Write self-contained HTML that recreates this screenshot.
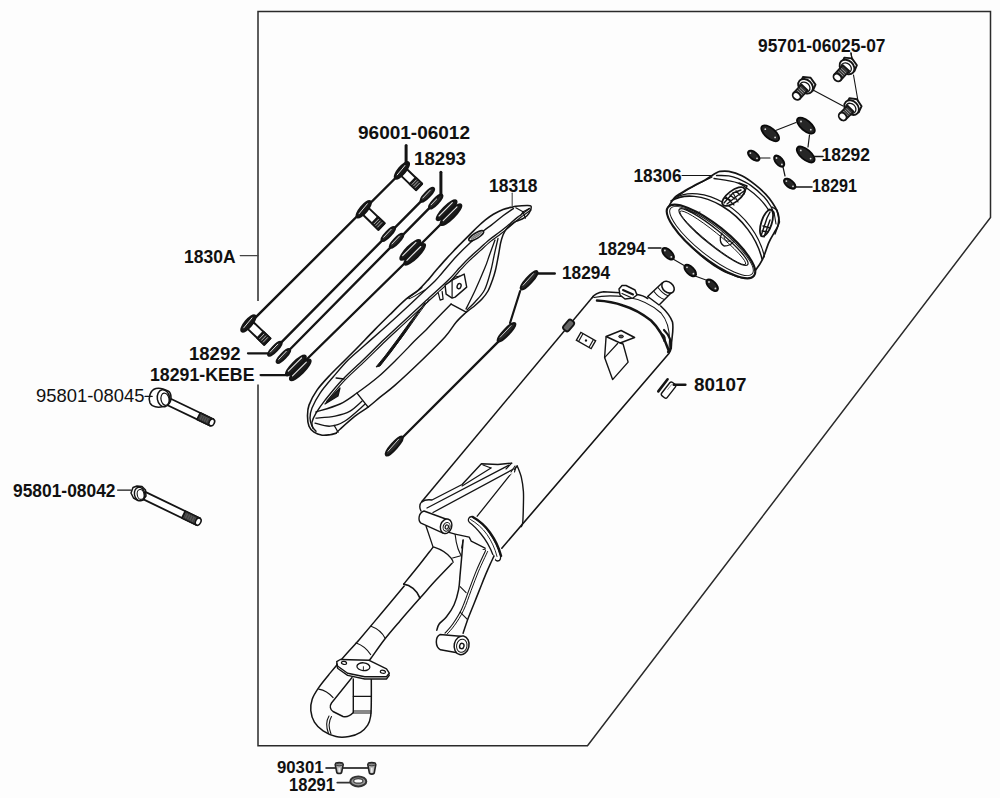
<!DOCTYPE html>
<html><head><meta charset="utf-8"><style>
html,body{margin:0;padding:0;background:#fdfdfd;}
svg{display:block;}
.t{font-family:"Liberation Sans",sans-serif;font-weight:bold;fill:#111;}
.r{font-family:"Liberation Sans",sans-serif;font-weight:normal;fill:#111;}
.ln{stroke:#1a1a1a;fill:none;}
</style></head><body>
<svg width="1000" height="798" viewBox="0 0 1000 798">
<rect x="0" y="0" width="1000" height="798" fill="#fdfdfd"/>
<!-- border -->
<path d="M258,301 L258,11.5 L990.5,11.5 L990.5,217.5 L587.5,745.8 L258,745.8 L258,384.5" fill="none" stroke="#2a2a2a" stroke-width="1.5"/>
<path d="M844.3,57.6 L851.9,58.4 L856.9,65.2 L854.4,71.2 L846.8,70.5 L841.8,63.7 Z" fill="#fff" stroke="#141414" stroke-width="1.9" stroke-linejoin="round" />
<ellipse cx="847.0" cy="67.0" rx="8.2" ry="6.4" transform="rotate(-137.6 847.0 67.0)" fill="#fff" stroke="#141414" stroke-width="1.9" />
<ellipse cx="846.2" cy="67.9" rx="5.6" ry="4.6" transform="rotate(-137.6 846.2 67.9)" fill="#fff" stroke="#141414" stroke-width="1.3" />
<path d="M842.8,65.2 L834.2,74.6 L840.6,80.4 L849.2,71.0 Z" fill="#3a3a3a" stroke="#141414" stroke-width="1.8" stroke-linejoin="round" />
<line x1="841.4" y1="68.6" x2="845.9" y2="72.7" stroke="#aaa" stroke-width="0.8" stroke-linecap="round"/>
<line x1="840.0" y1="70.2" x2="844.4" y2="74.3" stroke="#aaa" stroke-width="0.8" stroke-linecap="round"/>
<line x1="838.5" y1="71.8" x2="843.0" y2="75.9" stroke="#aaa" stroke-width="0.8" stroke-linecap="round"/>
<line x1="837.1" y1="73.4" x2="841.5" y2="77.4" stroke="#aaa" stroke-width="0.8" stroke-linecap="round"/>
<ellipse cx="837.4" cy="77.5" rx="4.3" ry="3.4" transform="rotate(-137.6 837.4 77.5)" fill="#fff" stroke="#141414" stroke-width="1.8" />
<path d="M803.0,76.9 L810.6,77.7 L815.5,84.6 L812.9,90.6 L805.4,89.8 L800.4,82.9 Z" fill="#fff" stroke="#141414" stroke-width="1.9" stroke-linejoin="round" />
<ellipse cx="805.6" cy="86.3" rx="8.2" ry="6.4" transform="rotate(-137.1 805.6 86.3)" fill="#fff" stroke="#141414" stroke-width="1.9" />
<ellipse cx="804.8" cy="87.2" rx="5.6" ry="4.6" transform="rotate(-137.1 804.8 87.2)" fill="#fff" stroke="#141414" stroke-width="1.3" />
<path d="M801.4,84.5 L793.4,93.1 L799.8,98.9 L807.7,90.3 Z" fill="#3a3a3a" stroke="#141414" stroke-width="1.8" stroke-linejoin="round" />
<line x1="800.2" y1="87.6" x2="804.7" y2="91.7" stroke="#aaa" stroke-width="0.8" stroke-linecap="round"/>
<line x1="798.9" y1="89.1" x2="803.3" y2="93.2" stroke="#aaa" stroke-width="0.8" stroke-linecap="round"/>
<line x1="797.5" y1="90.6" x2="802.0" y2="94.7" stroke="#aaa" stroke-width="0.8" stroke-linecap="round"/>
<line x1="796.2" y1="92.0" x2="800.6" y2="96.1" stroke="#aaa" stroke-width="0.8" stroke-linecap="round"/>
<ellipse cx="796.6" cy="96.0" rx="4.3" ry="3.4" transform="rotate(-137.1 796.6 96.0)" fill="#fff" stroke="#141414" stroke-width="1.8" />
<path d="M849.4,98.1 L856.9,99.2 L861.6,106.2 L858.8,112.2 L851.3,111.1 L846.6,104.0 Z" fill="#fff" stroke="#141414" stroke-width="1.9" stroke-linejoin="round" />
<ellipse cx="851.6" cy="107.6" rx="8.2" ry="6.4" transform="rotate(-135.0 851.6 107.6)" fill="#fff" stroke="#141414" stroke-width="1.9" />
<ellipse cx="850.8" cy="108.4" rx="5.6" ry="4.6" transform="rotate(-135.0 850.8 108.4)" fill="#fff" stroke="#141414" stroke-width="1.3" />
<path d="M847.5,105.6 L839.6,113.6 L845.6,119.6 L853.6,111.7 Z" fill="#3a3a3a" stroke="#141414" stroke-width="1.8" stroke-linejoin="round" />
<line x1="846.3" y1="108.6" x2="850.6" y2="112.9" stroke="#aaa" stroke-width="0.8" stroke-linecap="round"/>
<line x1="845.0" y1="110.0" x2="849.2" y2="114.2" stroke="#aaa" stroke-width="0.8" stroke-linecap="round"/>
<line x1="843.6" y1="111.3" x2="847.9" y2="115.6" stroke="#aaa" stroke-width="0.8" stroke-linecap="round"/>
<line x1="842.3" y1="112.7" x2="846.5" y2="116.9" stroke="#aaa" stroke-width="0.8" stroke-linecap="round"/>
<ellipse cx="842.6" cy="116.6" rx="4.3" ry="3.4" transform="rotate(-135.0 842.6 116.6)" fill="#fff" stroke="#141414" stroke-width="1.8" />
<line x1="851.0" y1="53.0" x2="852.0" y2="59.0" stroke="#141414" stroke-width="1.2" stroke-linecap="round"/>
<line x1="853.5" y1="75.0" x2="858.0" y2="101.0" stroke="#141414" stroke-width="1.1" stroke-linecap="round"/>
<line x1="813.0" y1="90.0" x2="843.0" y2="106.0" stroke="#141414" stroke-width="1.1" stroke-linecap="round"/>
<ellipse cx="770.2" cy="133.3" rx="10.8" ry="5.1" transform="rotate(40.0 770.2 133.3)" fill="#262626" stroke="#0a0a0a" stroke-width="1.8" />
<circle cx="765.3" cy="129.2" r="0.9" fill="#ddd"/>
<circle cx="775.1" cy="137.4" r="0.9" fill="#ddd"/>
<ellipse cx="805.9" cy="125.6" rx="10.8" ry="5.1" transform="rotate(40.0 805.9 125.6)" fill="#262626" stroke="#0a0a0a" stroke-width="1.8" />
<circle cx="801.0" cy="121.5" r="0.9" fill="#ddd"/>
<circle cx="810.8" cy="129.7" r="0.9" fill="#ddd"/>
<ellipse cx="805.7" cy="154.5" rx="10.8" ry="5.1" transform="rotate(40.0 805.7 154.5)" fill="#262626" stroke="#0a0a0a" stroke-width="1.8" />
<circle cx="800.8" cy="150.4" r="0.9" fill="#ddd"/>
<circle cx="810.6" cy="158.6" r="0.9" fill="#ddd"/>
<line x1="775.6" y1="130.5" x2="796.0" y2="122.5" stroke="#141414" stroke-width="1.1" stroke-linecap="round"/>
<line x1="809.5" y1="135.0" x2="808.0" y2="147.0" stroke="#141414" stroke-width="1.2" stroke-linecap="round"/>
<line x1="814.0" y1="156.5" x2="823.0" y2="156.5" stroke="#141414" stroke-width="1.5" stroke-linecap="round"/>
<ellipse cx="753.7" cy="155.7" rx="6.8" ry="3.6" transform="rotate(38.0 753.7 155.7)" fill="#262626" stroke="#0a0a0a" stroke-width="1.8" />
<circle cx="750.4" cy="153.1" r="0.9" fill="#ddd"/>
<circle cx="757.0" cy="158.3" r="0.9" fill="#ddd"/>
<ellipse cx="779.2" cy="161.2" rx="6.8" ry="3.6" transform="rotate(50.0 779.2 161.2)" fill="#262626" stroke="#0a0a0a" stroke-width="1.8" />
<circle cx="776.5" cy="158.0" r="0.9" fill="#ddd"/>
<circle cx="781.9" cy="164.4" r="0.9" fill="#ddd"/>
<ellipse cx="789.7" cy="183.7" rx="6.8" ry="3.6" transform="rotate(38.0 789.7 183.7)" fill="#262626" stroke="#0a0a0a" stroke-width="1.8" />
<circle cx="786.4" cy="181.1" r="0.9" fill="#ddd"/>
<circle cx="793.0" cy="186.3" r="0.9" fill="#ddd"/>
<line x1="760.0" y1="158.0" x2="770.0" y2="158.0" stroke="#141414" stroke-width="1.2" stroke-linecap="round"/>
<line x1="783.0" y1="167.0" x2="785.0" y2="176.0" stroke="#141414" stroke-width="1.2" stroke-linecap="round"/>
<line x1="795.0" y1="187.0" x2="812.0" y2="187.0" stroke="#141414" stroke-width="1.5" stroke-linecap="round"/>
<line x1="851.0" y1="53.0" x2="852.0" y2="59.0" stroke="#141414" stroke-width="1.3" stroke-linecap="round"/>
<ellipse cx="668.1" cy="253.7" rx="7.4" ry="3.8" transform="rotate(45.0 668.1 253.7)" fill="#262626" stroke="#0a0a0a" stroke-width="1.8" />
<circle cx="664.9" cy="250.5" r="0.9" fill="#ddd"/>
<circle cx="671.3" cy="256.9" r="0.9" fill="#ddd"/>
<ellipse cx="690.2" cy="270.5" rx="7.4" ry="3.8" transform="rotate(45.0 690.2 270.5)" fill="#262626" stroke="#0a0a0a" stroke-width="1.8" />
<circle cx="687.0" cy="267.3" r="0.9" fill="#ddd"/>
<circle cx="693.4" cy="273.7" r="0.9" fill="#ddd"/>
<ellipse cx="712.2" cy="285.2" rx="7.4" ry="3.8" transform="rotate(45.0 712.2 285.2)" fill="#262626" stroke="#0a0a0a" stroke-width="1.8" />
<circle cx="709.0" cy="282.0" r="0.9" fill="#ddd"/>
<circle cx="715.4" cy="288.4" r="0.9" fill="#ddd"/>
<line x1="648.3" y1="248.0" x2="661.0" y2="248.0" stroke="#141414" stroke-width="1.3" stroke-linecap="round"/>
<line x1="673.0" y1="259.0" x2="685.0" y2="266.0" stroke="#141414" stroke-width="1.1" stroke-linecap="round"/>
<line x1="695.0" y1="276.0" x2="706.0" y2="280.0" stroke="#141414" stroke-width="1.1" stroke-linecap="round"/>
<line x1="402.5" y1="171.0" x2="249.0" y2="324.0" stroke="#141414" stroke-width="2.4" stroke-linecap="round"/>
<line x1="427.4" y1="194.8" x2="274.9" y2="348.8" stroke="#141414" stroke-width="2.4" stroke-linecap="round"/>
<line x1="435.7" y1="201.6" x2="283.4" y2="356.0" stroke="#141414" stroke-width="2.4" stroke-linecap="round"/>
<line x1="444.0" y1="221.0" x2="419.0" y2="246.0" stroke="#141414" stroke-width="2.4" stroke-linecap="round"/>
<line x1="408.0" y1="260.0" x2="305.0" y2="361.0" stroke="#141414" stroke-width="2.4" stroke-linecap="round"/>
<path d="M400.9,175.6 L416.1,190.1 L422.1,183.7 L407.0,169.2 Z" fill="#fff" stroke="#141414" stroke-width="2.0" stroke-linejoin="round" />
<path d="M409.7,184.0 L416.1,190.1 L422.1,183.7 L415.8,177.7 Z" fill="#222" stroke="#141414" stroke-width="2.0" stroke-linejoin="round" />
<line x1="412.0" y1="184.4" x2="416.3" y2="179.9" stroke="#bbb" stroke-width="0.9" stroke-linecap="round"/>
<line x1="413.6" y1="185.9" x2="417.9" y2="181.5" stroke="#bbb" stroke-width="0.9" stroke-linecap="round"/>
<line x1="415.3" y1="187.5" x2="419.6" y2="183.1" stroke="#bbb" stroke-width="0.9" stroke-linecap="round"/>
<ellipse cx="401.9" cy="170.4" rx="10.2" ry="3.3" transform="rotate(129.8 401.9 170.4)" fill="#1a1a1a" stroke="#141414" stroke-width="2.3" />
<line x1="405.5" y1="164.9" x2="397.2" y2="174.9" stroke="#ddd" stroke-width="1.0" stroke-linecap="round"/>
<path d="M362.7,214.5 L378.4,229.7 L384.6,223.3 L368.8,208.1 Z" fill="#fff" stroke="#141414" stroke-width="2.0" stroke-linejoin="round" />
<path d="M371.9,223.4 L378.4,229.7 L384.6,223.3 L378.0,217.0 Z" fill="#222" stroke="#141414" stroke-width="2.0" stroke-linejoin="round" />
<line x1="374.2" y1="223.7" x2="378.5" y2="219.3" stroke="#bbb" stroke-width="0.9" stroke-linecap="round"/>
<line x1="375.9" y1="225.4" x2="380.2" y2="221.0" stroke="#bbb" stroke-width="0.9" stroke-linecap="round"/>
<line x1="377.6" y1="227.1" x2="381.9" y2="222.6" stroke="#bbb" stroke-width="0.9" stroke-linecap="round"/>
<ellipse cx="363.7" cy="209.3" rx="10.2" ry="3.3" transform="rotate(130.0 363.7 209.3)" fill="#1a1a1a" stroke="#141414" stroke-width="2.3" />
<line x1="367.3" y1="203.8" x2="359.0" y2="213.8" stroke="#ddd" stroke-width="1.0" stroke-linecap="round"/>
<path d="M247.4,328.6 L264.2,344.8 L270.4,338.4 L253.5,322.2 Z" fill="#fff" stroke="#141414" stroke-width="2.0" stroke-linejoin="round" />
<path d="M257.3,338.1 L264.2,344.8 L270.4,338.4 L263.4,331.7 Z" fill="#222" stroke="#141414" stroke-width="2.0" stroke-linejoin="round" />
<line x1="259.7" y1="338.5" x2="263.9" y2="334.1" stroke="#bbb" stroke-width="0.9" stroke-linecap="round"/>
<line x1="261.5" y1="340.3" x2="265.8" y2="335.9" stroke="#bbb" stroke-width="0.9" stroke-linecap="round"/>
<line x1="263.3" y1="342.1" x2="267.6" y2="337.6" stroke="#bbb" stroke-width="0.9" stroke-linecap="round"/>
<ellipse cx="248.4" cy="323.4" rx="10.2" ry="3.3" transform="rotate(129.9 248.4 323.4)" fill="#1a1a1a" stroke="#141414" stroke-width="2.3" />
<line x1="252.0" y1="317.9" x2="243.7" y2="327.9" stroke="#ddd" stroke-width="1.0" stroke-linecap="round"/>
<ellipse cx="427.4" cy="194.8" rx="9.2" ry="2.6" transform="rotate(-46.0 427.4 194.8)" fill="#2a2a2a" stroke="#141414" stroke-width="2.1" />
<line x1="422.7" y1="198.1" x2="430.3" y2="190.1" stroke="#e0e0e0" stroke-width="1.0" stroke-linecap="round"/>
<ellipse cx="388.3" cy="234.0" rx="9.2" ry="2.6" transform="rotate(-46.0 388.3 234.0)" fill="#2a2a2a" stroke="#141414" stroke-width="2.1" />
<line x1="383.6" y1="237.3" x2="391.2" y2="229.3" stroke="#e0e0e0" stroke-width="1.0" stroke-linecap="round"/>
<ellipse cx="274.9" cy="348.8" rx="9.2" ry="2.6" transform="rotate(-46.0 274.9 348.8)" fill="#2a2a2a" stroke="#141414" stroke-width="2.1" />
<line x1="270.2" y1="352.1" x2="277.8" y2="344.1" stroke="#e0e0e0" stroke-width="1.0" stroke-linecap="round"/>
<ellipse cx="435.7" cy="201.6" rx="9.2" ry="2.6" transform="rotate(-46.0 435.7 201.6)" fill="#2a2a2a" stroke="#141414" stroke-width="2.1" />
<line x1="431.0" y1="204.9" x2="438.6" y2="196.9" stroke="#e0e0e0" stroke-width="1.0" stroke-linecap="round"/>
<ellipse cx="396.6" cy="240.7" rx="9.2" ry="2.6" transform="rotate(-46.0 396.6 240.7)" fill="#2a2a2a" stroke="#141414" stroke-width="2.1" />
<line x1="391.9" y1="244.0" x2="399.5" y2="236.0" stroke="#e0e0e0" stroke-width="1.0" stroke-linecap="round"/>
<ellipse cx="283.4" cy="356.0" rx="9.2" ry="2.6" transform="rotate(-46.0 283.4 356.0)" fill="#2a2a2a" stroke="#141414" stroke-width="2.1" />
<line x1="278.7" y1="359.3" x2="286.3" y2="351.3" stroke="#e0e0e0" stroke-width="1.0" stroke-linecap="round"/>
<ellipse cx="446.6" cy="210.3" rx="13.4" ry="3.6" transform="rotate(-45.0 446.6 210.3)" fill="#1c1c1c" stroke="#141414" stroke-width="2.3" />
<line x1="439.0" y1="216.0" x2="452.3" y2="202.7" stroke="#e8e8e8" stroke-width="1.1" stroke-linecap="round"/>
<ellipse cx="451.0" cy="214.7" rx="14.0" ry="3.6" transform="rotate(-45.0 451.0 214.7)" fill="#1c1c1c" stroke="#141414" stroke-width="2.3" />
<line x1="443.2" y1="220.7" x2="457.0" y2="206.9" stroke="#e8e8e8" stroke-width="1.1" stroke-linecap="round"/>
<ellipse cx="410.3" cy="249.9" rx="13.4" ry="3.6" transform="rotate(-45.0 410.3 249.9)" fill="#1c1c1c" stroke="#141414" stroke-width="2.3" />
<line x1="402.7" y1="255.6" x2="416.0" y2="242.3" stroke="#e8e8e8" stroke-width="1.1" stroke-linecap="round"/>
<ellipse cx="414.7" cy="254.3" rx="14.0" ry="3.6" transform="rotate(-45.0 414.7 254.3)" fill="#1c1c1c" stroke="#141414" stroke-width="2.3" />
<line x1="406.9" y1="260.3" x2="420.7" y2="246.5" stroke="#e8e8e8" stroke-width="1.1" stroke-linecap="round"/>
<ellipse cx="295.9" cy="365.5" rx="13.4" ry="3.6" transform="rotate(-45.0 295.9 365.5)" fill="#1c1c1c" stroke="#141414" stroke-width="2.3" />
<line x1="288.3" y1="371.2" x2="301.6" y2="357.9" stroke="#e8e8e8" stroke-width="1.1" stroke-linecap="round"/>
<ellipse cx="300.3" cy="369.9" rx="14.0" ry="3.6" transform="rotate(-45.0 300.3 369.9)" fill="#1c1c1c" stroke="#141414" stroke-width="2.3" />
<line x1="292.5" y1="375.9" x2="306.3" y2="362.1" stroke="#e8e8e8" stroke-width="1.1" stroke-linecap="round"/>
<line x1="406.1" y1="145.5" x2="406.1" y2="164.0" stroke="#141414" stroke-width="3.0" stroke-linecap="round"/>
<line x1="440.9" y1="172.3" x2="440.9" y2="194.0" stroke="#141414" stroke-width="3.0" stroke-linecap="round"/>
<line x1="441.0" y1="194.0" x2="437.5" y2="198.0" stroke="#141414" stroke-width="1.8" stroke-linecap="round"/>
<line x1="248.0" y1="353.3" x2="268.0" y2="353.3" stroke="#141414" stroke-width="2.3" stroke-linecap="round"/>
<line x1="260.6" y1="375.1" x2="287.0" y2="375.1" stroke="#141414" stroke-width="2.3" stroke-linecap="round"/>
<line x1="240.2" y1="255.6" x2="258.0" y2="255.6" stroke="#444" stroke-width="1.2" stroke-linecap="round"/>
<path d="M421.9,501.4 L593.5,296.0 L596.7,292.8 L604.2,291.2 L617.0,291.7 L627.6,289.5 L638.2,292.8 L645.7,296.0 L655.3,306.6 L666.0,315.1 L672.0,324.7 L671.3,333.2 L670.2,343.9 L669.1,354.5 L666.5,359.5 L501.8,548.2 L470.0,520.0 L440.0,505.0 Z" fill="#fdfdfd" stroke="#fff" stroke-width="0.01" stroke-linejoin="round" />
<path d="M421.9,501.4 L593.5,296.0" fill="none" stroke="#141414" stroke-width="1.5" stroke-linejoin="round" />
<path d="M592.3,297.7 C594,294.5 597,292.5 603.7,291.7 L620,292.8 M636,294.2 C641,295 645,296.5 647.7,298.5" fill="none" stroke="#141414" stroke-width="1.6" stroke-linejoin="round" stroke-linecap="round" />
<path d="M660.7,306 C665,310 670,315 672.5,322 C674,330 671.5,338 671.3,346.5 C671,350 670,352 668.9,353.5 L501.8,548.2" fill="none" stroke="#141414" stroke-width="1.6" stroke-linejoin="round" stroke-linecap="round" />
<path d="M594,297.5 C603,295.5 614,295.5 626,297 C640,299 652,305 661,313 C667,320 669.5,330 669.5,340 L669,351" fill="none" stroke="#141414" stroke-width="1.1" stroke-linejoin="round" stroke-linecap="round" />
<path d="M597,300.5 C606,301 615,302.5 623,305.5 C633,308.5 642,313.5 651,320.5 C659,328 664,337 668.5,350" fill="none" stroke="#141414" stroke-width="2.5" stroke-linejoin="round" stroke-linecap="round" />
<path d="M620,295 L619,289 L622,285.5 L626,285.5 L635,290 L637,295 L633,298 L625,299 Z" fill="#fff" stroke="#141414" stroke-width="1.5" stroke-linejoin="round" stroke-linecap="round" />
<path d="M623,290 L633,294.5" fill="none" stroke="#141414" stroke-width="2.0" stroke-linejoin="round" stroke-linecap="round" />
<path d="M622,293.5 L631,297.5" fill="none" stroke="#141414" stroke-width="1.2" stroke-linejoin="round" stroke-linecap="round" />
<path d="M647.7,296.5 L662.4,282.7 L671.3,292.8 L659.1,305.0 Z" fill="#fff" stroke="#141414" stroke-width="1.5" stroke-linejoin="round" />
<ellipse cx="668.0" cy="287.2" rx="7.0" ry="5.0" transform="rotate(40.0 668.0 287.2)" fill="#fff" stroke="#141414" stroke-width="1.6" />
<path d="M654,291.5 C657,295.5 661,298.5 664.5,299.5" fill="none" stroke="#141414" stroke-width="1.1" stroke-linejoin="round" stroke-linecap="round" />
<path d="M658,287.5 C661,291.5 664,294.5 667.5,295.5" fill="none" stroke="#141414" stroke-width="1.1" stroke-linejoin="round" stroke-linecap="round" />
<path d="M664,330 C668,334 672,340 671,348 L668,352" fill="none" stroke="#141414" stroke-width="2.2" stroke-linejoin="round" stroke-linecap="round" />
<path d="M662,334 C665,336 666,339 664,341" fill="none" stroke="#141414" stroke-width="1.6" stroke-linejoin="round" stroke-linecap="round" />
<path d="M606.1,336.5 L621.1,330.5 L634.6,337.5 L620.1,343.0 Z" fill="#fff" stroke="#141414" stroke-width="1.5" stroke-linejoin="round" />
<ellipse cx="621.1" cy="336.5" rx="2.4" ry="1.4" transform="rotate(0.0 621.1 336.5)" fill="#555" stroke="#141414" stroke-width="1.0" />
<path d="M606.1,336.5 L604.6,357.6 L612.6,379.6 L628.1,362.1 L623.1,344.0 L620.1,343.0" fill="none" stroke="#141414" stroke-width="1.4" stroke-linejoin="round" />
<line x1="604.6" y1="357.6" x2="617.6" y2="343.5" stroke="#141414" stroke-width="1.2" stroke-linecap="round"/>
<g transform="rotate(30 586 340.5)"><rect x="577.5" y="336" width="17" height="9" fill="#fff" stroke="#141414" stroke-width="1.4"/><line x1="580" y1="336.5" x2="580" y2="344.5" stroke="#141414" stroke-width="1.2"/><line x1="592" y1="336.5" x2="592" y2="344.5" stroke="#141414" stroke-width="1.2"/><circle cx="586" cy="340.5" r="1.2" fill="#141414"/></g>
<rect x="562.6" y="322" width="12" height="7" rx="2.5" transform="rotate(-50 568.6 325.5)" fill="#666" stroke="#141414" stroke-width="1.8"/>
<path d="M512.6,207.0 L503.0,209.4 L493.4,214.2 L485.4,219.8 L477.4,227.0 L471.0,233.4 L463.0,241.4 L456.3,248.1 L446.0,259.1 L435.7,270.8 L428.8,279.1 L418.4,290.0 L406.0,299.2 L390.0,314.5 L374.8,329.6 L360.0,345.0 L345.1,360.0 L330.1,375.0 L317.0,390.1 L309.0,405.1 L307.5,416.1 L309.0,426.2 L314.0,432.2 L322.1,435.2 L330.1,434.7 L336.1,433.2 L340.0,429.2 L355.0,416.1 L368.1,407.1 L380.1,397.1 L395.1,385.1 L420.0,362.0 L445.0,337.0 L456.1,322.2 L466.2,312.2 L475.0,305.5 L482.0,299.0 L488.0,291.0 L492.5,280.0 L495.5,270.0 L498.5,255.0 L500.6,243.0 L503.0,235.0 L506.2,229.4 L511.0,224.6 L515.8,221.4 L522.2,219.0 L527.0,215.8 L530.2,211.0 L531.0,206.2 L527.0,205.4 L515.8,206.2 L512.6,207.0 Z" fill="#fcfcfc" stroke="#fff" stroke-width="0.01" stroke-linejoin="round" />
<path d="M512.6,207.0 C511.0,207.4 506.2,208.2 503.0,209.4 C499.8,210.6 496.3,212.5 493.4,214.2 C490.5,215.9 488.1,217.7 485.4,219.8 C482.7,221.9 479.8,224.7 477.4,227.0 C475.0,229.3 473.4,231.0 471.0,233.4 C468.6,235.8 465.4,239.0 463.0,241.4 C460.6,243.8 459.1,245.1 456.3,248.1 C453.5,251.1 449.4,255.3 446.0,259.1 C442.6,262.9 438.6,267.5 435.7,270.8 C432.8,274.1 431.7,275.9 428.8,279.1 C425.9,282.3 422.2,286.6 418.4,290.0 C414.6,293.4 410.7,295.1 406.0,299.2 C401.3,303.3 395.2,309.4 390.0,314.5 C384.8,319.6 379.8,324.5 374.8,329.6 C369.8,334.7 364.9,339.9 360.0,345.0 C355.1,350.1 350.1,355.0 345.1,360.0 C340.1,365.0 334.8,370.0 330.1,375.0 C325.4,380.0 320.5,385.1 317.0,390.1 C313.5,395.1 310.6,400.8 309.0,405.1 C307.4,409.4 307.5,412.6 307.5,416.1 C307.5,419.6 307.9,423.5 309.0,426.2 C310.1,428.9 311.8,430.7 314.0,432.2 C316.2,433.7 319.4,434.8 322.1,435.2 C324.8,435.6 327.8,435.0 330.1,434.7 C332.4,434.4 335.1,433.4 336.1,433.2" fill="none" stroke="#141414" stroke-width="1.6" stroke-linejoin="round" stroke-linecap="round" />
<path d="M336.1,433.2 C336.8,432.5 336.9,432.0 340.0,429.2 C343.1,426.4 350.3,419.8 355.0,416.1 C359.7,412.4 363.9,410.3 368.1,407.1 C372.3,403.9 375.6,400.8 380.1,397.1 C384.6,393.4 388.5,391.0 395.1,385.1 C401.8,379.2 411.7,370.0 420.0,362.0 C428.3,354.0 439.0,343.6 445.0,337.0 C451.0,330.4 452.6,326.3 456.1,322.2 C459.6,318.1 464.5,313.9 466.2,312.2" fill="none" stroke="#141414" stroke-width="1.5" stroke-linejoin="round" stroke-linecap="round" />
<path d="M466.2,312.2 C467.7,311.1 472.4,307.7 475.0,305.5 C477.6,303.3 479.8,301.4 482.0,299.0 C484.2,296.6 486.2,294.2 488.0,291.0 C489.8,287.8 491.2,283.5 492.5,280.0 C493.8,276.5 494.5,274.2 495.5,270.0 C496.5,265.8 497.6,259.5 498.5,255.0 C499.4,250.5 499.9,246.3 500.6,243.0 C501.4,239.7 502.1,237.3 503.0,235.0 C503.9,232.7 504.9,231.1 506.2,229.4 C507.5,227.7 509.4,225.9 511.0,224.6 C512.6,223.3 513.9,222.3 515.8,221.4 C517.7,220.5 520.3,219.9 522.2,219.0 C524.1,218.1 525.7,217.1 527.0,215.8 C528.3,214.5 529.5,212.6 530.2,211.0 C530.9,209.4 531.5,207.1 531.0,206.2 C530.5,205.3 529.5,205.4 527.0,205.4 C524.5,205.4 518.2,205.9 515.8,206.2 C513.4,206.5 513.1,206.9 512.6,207.0" fill="none" stroke="#141414" stroke-width="1.5" stroke-linejoin="round" stroke-linecap="round" />
<path d="M513.4,208.6 C511.7,209.8 506.7,213.0 503.0,215.8 C499.3,218.6 494.2,223.0 491.0,225.4 C487.8,227.8 487.6,227.5 484.0,230.5 C480.4,233.5 474.0,239.2 469.4,243.5 C464.8,247.8 460.8,251.7 456.3,256.5 C451.8,261.3 446.1,268.4 442.5,272.5 C438.9,276.6 437.9,278.1 435.0,281.0 C432.1,283.9 430.5,285.2 425.3,290.0 C420.1,294.8 411.2,303.3 404.0,310.0 C396.8,316.7 388.5,324.2 382.0,330.0 C375.5,335.8 370.6,340.0 365.0,345.0 C359.4,350.0 353.4,354.7 348.1,360.0 C342.8,365.3 337.8,371.5 333.1,377.0 C328.4,382.5 323.6,387.9 320.1,393.1 C316.6,398.3 313.7,403.9 312.0,408.1 C310.3,412.3 310.0,415.1 310.0,418.1 C310.0,421.1 311.0,424.0 312.0,426.2 C313.0,428.4 315.3,430.4 316.0,431.2" fill="none" stroke="#141414" stroke-width="1.4" stroke-linejoin="round" stroke-linecap="round" />
<path d="M529.4,208.6 C527.4,210.1 521.1,214.5 517.4,217.4 C513.7,220.3 510.1,223.7 507.0,226.2 C503.9,228.7 502.0,230.2 499.0,232.5 C496.0,234.8 492.3,237.2 489.0,240.0 C485.7,242.8 482.5,245.8 479.0,249.0 C475.5,252.2 471.2,255.9 468.0,259.0 C464.8,262.1 463.1,264.0 459.8,267.5 C456.5,271.0 454.3,274.2 448.4,280.0 C442.5,285.8 431.9,295.2 424.5,302.0 C417.1,308.8 410.8,314.7 404.0,321.0 C397.2,327.3 390.8,333.1 384.0,339.6 C377.2,346.1 370.1,353.3 363.1,360.0 C356.1,366.7 348.4,373.3 342.1,380.0 C335.8,386.7 329.5,394.6 325.1,400.1 C320.8,405.6 318.2,409.4 316.0,413.1 C313.8,416.8 312.5,419.7 312.0,422.2 C311.5,424.7 312.8,427.2 313.0,428.2" fill="none" stroke="#141414" stroke-width="1.4" stroke-linejoin="round" stroke-linecap="round" />
<path d="M531.0,210.0 C529.0,211.5 522.7,215.9 519.0,218.8 C515.3,221.7 511.7,225.1 508.6,227.6 C505.5,230.1 503.6,231.6 500.6,233.9 C497.6,236.2 493.9,238.7 490.6,241.4 C487.3,244.2 484.1,247.2 480.6,250.4 C477.1,253.6 472.8,257.3 469.6,260.4 C466.4,263.5 464.7,265.4 461.4,268.9 C458.1,272.4 455.9,275.6 450.0,281.4 C444.1,287.1 433.5,296.6 426.1,303.4 C418.7,310.2 412.4,316.1 405.6,322.4 C398.9,328.7 392.4,334.5 385.6,341.0 C378.8,347.5 371.7,354.7 364.7,361.4 C357.7,368.1 350.0,374.7 343.7,381.4 C337.4,388.1 329.5,398.1 326.7,401.5" fill="none" stroke="#141414" stroke-width="1.2" stroke-linejoin="round" stroke-linecap="round" />
<path d="M451.1,304.1 C448.2,307.0 438.2,317.2 434.0,321.5 C429.8,325.8 429.0,327.0 426.0,330.0 C423.0,333.0 421.0,334.6 416.0,339.6 C411.0,344.6 402.3,353.8 396.0,360.0 C389.7,366.2 384.5,371.5 378.0,377.0 C371.5,382.5 363.3,388.5 357.0,393.0 C350.7,397.5 346.8,400.8 340.0,404.0 C333.2,407.2 320.0,410.7 316.0,412.0" fill="none" stroke="#141414" stroke-width="1.4" stroke-linejoin="round" stroke-linecap="round" />
<line x1="451.1" y1="304.1" x2="466.2" y2="312.2" stroke="#141414" stroke-width="1.4" stroke-linecap="round"/>
<line x1="357.0" y1="393.1" x2="368.1" y2="407.1" stroke="#141414" stroke-width="1.4" stroke-linecap="round"/>
<line x1="334.1" y1="425.2" x2="338.1" y2="432.2" stroke="#141414" stroke-width="1.3" stroke-linecap="round"/>
<line x1="336.1" y1="378.0" x2="344.1" y2="379.0" stroke="#141414" stroke-width="1.3" stroke-linecap="round"/>
<path d="M316.0,418.1 C319.2,417.8 329.4,417.3 335.1,416.1 C340.8,414.9 345.6,413.6 350.1,411.1 C354.6,408.6 360.1,402.8 362.1,401.1" fill="none" stroke="#141414" stroke-width="1.3" stroke-linejoin="round" stroke-linecap="round" />
<path d="M315.0,423.2 C317.5,423.7 325.1,426.6 330.1,426.2 C335.1,425.8 339.2,424.7 345.0,421.0 C350.8,417.3 361.8,406.9 365.1,404.1" fill="none" stroke="#141414" stroke-width="1.3" stroke-linejoin="round" stroke-linecap="round" />
<path d="M325,404 L340,388 L338,396 Z" fill="#222" stroke="#141414" stroke-width="1.2" stroke-linejoin="round" stroke-linecap="round" />
<path d="M425,303 L410,322 L397,340 L385,356 L376,367 L380,366 L391,352 L402,337 L414,319 Z" fill="#151515" stroke="#141414" stroke-width="1.0" stroke-linejoin="round" stroke-linecap="round" />
<path d="M429,299.5 L417,316 L405,333 L392,350 L381,363.5" fill="none" stroke="#141414" stroke-width="1.0" stroke-linejoin="round" stroke-linecap="round" />
<path d="M407,298.5 C412,295 417,292 422,287.5 M409,298.8 C414,297 419,293 425,290" fill="none" stroke="#141414" stroke-width="1.1" stroke-linejoin="round" stroke-linecap="round" />
<ellipse cx="476.2" cy="235.8" rx="8.6" ry="2.7" transform="rotate(-32.0 476.2 235.8)" fill="#fff" stroke="#141414" stroke-width="1.6" />
<ellipse cx="476.2" cy="235.8" rx="6.2" ry="1.0" transform="rotate(-32.0 476.2 235.8)" fill="#999" stroke="#666" stroke-width="0.9" />
<path d="M498.0,238.5 C497.3,241.4 495.2,250.4 494.0,256.0 C492.8,261.6 492.1,266.3 490.5,272.0 C488.9,277.7 487.1,285.0 484.5,290.0 C481.9,295.0 477.9,298.7 475.0,302.0 C472.1,305.3 468.3,308.7 467.0,310.0" fill="none" stroke="#141414" stroke-width="1.3" stroke-linejoin="round" stroke-linecap="round" />
<path d="M495.0,240.0 C494.1,242.5 491.2,250.4 489.5,255.0 C487.8,259.6 487.4,261.8 485.0,267.6 C482.6,273.4 478.5,283.1 475.3,290.0 C472.1,296.9 467.6,305.8 466.0,309.0" fill="none" stroke="#141414" stroke-width="1.3" stroke-linejoin="round" stroke-linecap="round" />
<path d="M515.8,207.8 L523,211.8 L525.4,218.2 M523,211.8 L529.5,208.5 M520.6,215.8 L523,211.8" fill="none" stroke="#141414" stroke-width="1.2" stroke-linejoin="round" stroke-linecap="round" />
<line x1="512.2" y1="193.2" x2="512.2" y2="206.2" stroke="#555" stroke-width="1.2" stroke-linecap="round"/>
<path d="M445.1,285.1 L452.1,280.1 L464.2,274.1 L466.7,287.1 L455.1,297.1 L452.1,298.1 L446.1,294.1 Z" fill="#fff" stroke="#141414" stroke-width="1.4" stroke-linejoin="round" />
<path d="M452.1,280.1 L452.1,298.1" fill="none" stroke="#141414" stroke-width="1.2" stroke-linejoin="round" />
<path d="M452.1,280.1 L455.0,277.0 L460.0,276.0" fill="none" stroke="#141414" stroke-width="1.0" stroke-linejoin="round" />
<ellipse cx="459.1" cy="286.1" rx="1.9" ry="2.7" transform="rotate(20.0 459.1 286.1)" fill="#fff" stroke="#141414" stroke-width="1.4" />
<path d="M438.1,292.1 L440.1,300.1 L443.1,299.1 L442.1,291.1" fill="#fff" stroke="#141414" stroke-width="1.2" stroke-linejoin="round" />
<line x1="520.1" y1="291.1" x2="510.0" y2="323.1" stroke="#141414" stroke-width="2.1" stroke-linecap="round"/>
<line x1="498.4" y1="341.6" x2="401.0" y2="439.0" stroke="#141414" stroke-width="2.3" stroke-linecap="round"/>
<ellipse cx="529.1" cy="280.3" rx="12.0" ry="3.0" transform="rotate(-47.7 529.1 280.3)" fill="#2a2a2a" stroke="#141414" stroke-width="2.1" />
<line x1="523.0" y1="285.3" x2="533.5" y2="273.7" stroke="#ddd" stroke-width="0.9" stroke-linecap="round"/>
<ellipse cx="506.5" cy="332.2" rx="12.3" ry="3.0" transform="rotate(-46.6 506.5 332.2)" fill="#2a2a2a" stroke="#141414" stroke-width="2.1" />
<line x1="500.1" y1="337.2" x2="511.1" y2="325.6" stroke="#ddd" stroke-width="0.9" stroke-linecap="round"/>
<ellipse cx="394.2" cy="446.0" rx="12.3" ry="3.0" transform="rotate(-48.5 394.2 446.0)" fill="#2a2a2a" stroke="#141414" stroke-width="2.1" />
<line x1="388.0" y1="451.2" x2="398.6" y2="439.2" stroke="#ddd" stroke-width="0.9" stroke-linecap="round"/>
<line x1="537.1" y1="273.5" x2="554.7" y2="273.5" stroke="#141414" stroke-width="2.5" stroke-linecap="round"/>
<line x1="667.6" y1="379.3" x2="658.3" y2="391.4" stroke="#141414" stroke-width="2.6" stroke-linecap="round"/>
<g transform="rotate(-52 668.6 390)"><rect x="660" y="386.5" width="17" height="7" rx="2" fill="#fff" stroke="#141414" stroke-width="1.4"/><line x1="668" y1="389" x2="675" y2="389" stroke="#888" stroke-width="0.8"/></g>
<line x1="673.7" y1="384.8" x2="685.4" y2="384.8" stroke="#141414" stroke-width="2.4" stroke-linecap="round"/>
<path d="M668.0,209.0 C668.3,208.2 668.8,206.1 670.0,204.1 C671.2,202.1 673.3,198.8 675.0,197.1 C676.7,195.3 678.3,194.7 680.0,193.6 C681.7,192.5 682.6,192.0 685.1,190.6 C687.6,189.2 691.8,186.8 695.1,185.0 C698.4,183.2 701.6,182.0 705.1,180.0 C708.6,178.0 713.6,174.4 716.1,173.0 C718.6,171.6 718.1,171.7 720.2,171.4 C722.3,171.1 725.2,170.7 728.8,171.4 C732.4,172.1 737.5,173.6 741.9,175.8 C746.3,178.0 751.1,181.5 755.1,184.6 C759.1,187.7 762.7,191.1 765.6,194.2 C768.5,197.3 770.7,200.2 772.6,203.0 C774.5,205.8 776.0,208.6 777.0,210.9 C778.0,213.2 778.6,214.5 778.8,217.0 C778.9,219.5 778.5,223.5 777.9,225.8 C777.3,228.1 776.7,228.2 775.2,231.0 C773.7,233.8 770.9,237.8 768.8,242.6 C766.7,247.4 764.7,254.9 762.4,259.6 C760.1,264.3 757.1,268.2 755.0,271.0 C752.9,273.8 751.7,275.3 750.0,276.5 C748.3,277.7 747.0,278.0 745.0,278.0 C743.0,278.0 741.7,278.0 737.9,276.7 C734.1,275.4 727.3,273.1 722.0,270.3 C716.7,267.5 711.3,263.8 706.0,259.6 C700.7,255.4 694.3,249.4 690.0,245.0 C685.7,240.6 682.8,236.7 680.0,233.0 C677.2,229.3 674.9,226.3 673.0,223.0 C671.1,219.7 669.3,215.3 668.5,213.0 C667.7,210.7 668.1,209.7 668.0,209.0" fill="#fff" stroke="#141414" stroke-width="1.7" stroke-linejoin="round" stroke-linecap="round" />
<path d="M716.5,175.5 C718.5,175.6 725.3,175.3 728.8,175.8 C732.3,176.3 733.9,176.8 737.5,178.4 C741.1,180.0 746.3,182.3 750.7,185.4 C755.1,188.5 760.5,193.3 763.9,196.8 C767.3,200.3 769.2,203.6 770.9,206.5 C772.6,209.4 773.5,212.8 774.0,214.0" fill="none" stroke="#141414" stroke-width="1.3" stroke-linejoin="round" stroke-linecap="round" />
<path d="M714.0,178.5 C717.9,179.2 731.8,181.1 737.5,182.8 C743.2,184.6 744.3,186.4 748.0,189.0 C751.7,191.6 756.0,194.9 759.5,198.6 C763.0,202.2 767.0,207.5 769.1,210.9 C771.2,214.3 771.5,217.7 772.0,219.0" fill="none" stroke="#141414" stroke-width="1.3" stroke-linejoin="round" stroke-linecap="round" />
<path d="M712.0,177.0 C710.0,178.0 704.0,180.9 700.0,183.0 C696.0,185.1 691.7,187.3 688.0,189.5 C684.3,191.7 679.7,194.9 678.0,196.0" fill="none" stroke="#141414" stroke-width="1.2" stroke-linejoin="round" stroke-linecap="round" />
<ellipse cx="711.0" cy="241.5" rx="55.0" ry="16.8" transform="rotate(38.7 711.0 241.5)" fill="#fff" stroke="#141414" stroke-width="2.2" />
<ellipse cx="711.5" cy="241.0" rx="52.3" ry="14.2" transform="rotate(38.7 711.5 241.0)" fill="#fdfdfd" stroke="#141414" stroke-width="1.0" />
<path d="M671,201 C684,193 703,195 722,206 C742,218 757,238 762,259" fill="none" stroke="#141414" stroke-width="1.5" stroke-linejoin="round" stroke-linecap="round" />
<path d="M674,198.5 C687,190.5 706,192.5 725,203.5 C745,215.5 760,236 764.5,257" fill="none" stroke="#141414" stroke-width="1.1" stroke-linejoin="round" stroke-linecap="round" />
<ellipse cx="713.5" cy="237.0" rx="44.0" ry="7.8" transform="rotate(39.0 713.5 237.0)" fill="#fff" stroke="#141414" stroke-width="1.3" />
<ellipse cx="712.8" cy="237.8" rx="42.0" ry="6.0" transform="rotate(39.0 712.8 237.8)" fill="#fff" stroke="#141414" stroke-width="0.9" />
<path d="M686,209 C690,213 696,214 700,212" fill="none" stroke="#141414" stroke-width="1.1" stroke-linejoin="round" stroke-linecap="round" />
<path d="M722,233 C719,238 720,244 724,246 C729,246 732,244 734,241" fill="none" stroke="#141414" stroke-width="1.3" stroke-linejoin="round" stroke-linecap="round" />
<path d="M724,237 C725,241 728,242 731,241" fill="none" stroke="#141414" stroke-width="1.0" stroke-linejoin="round" stroke-linecap="round" />
<ellipse cx="733.5" cy="196.5" rx="13.5" ry="5.8" transform="rotate(-37.0 733.5 196.5)" fill="#fff" stroke="#141414" stroke-width="1.8" />
<path d="M724,203 L733,193 L741,190 M727,204 L737,196 L744,191 M730,200 L725,198 M735,199 L730,195 M740,195 L736,191" fill="none" stroke="#141414" stroke-width="1.4" stroke-linejoin="round" stroke-linecap="round" />
<path d="M733,193 L738,202 M726,197 L734,205" fill="none" stroke="#141414" stroke-width="1.1" stroke-linejoin="round" stroke-linecap="round" />
<path d="M739,183 L747,186 L744,194" fill="none" stroke="#141414" stroke-width="1.4" stroke-linejoin="round" stroke-linecap="round" />
<ellipse cx="766.5" cy="223.0" rx="14.0" ry="5.2" transform="rotate(-72.0 766.5 223.0)" fill="#fff" stroke="#141414" stroke-width="1.8" />
<path d="M761,236 L767,218 L770,212 M764,237 L770,220 M763,226 L770,228 M762,231 L768,232" fill="none" stroke="#141414" stroke-width="1.4" stroke-linejoin="round" stroke-linecap="round" />
<path d="M772,207 L777,210 L779.5,222 L775,234" fill="none" stroke="#141414" stroke-width="1.4" stroke-linejoin="round" stroke-linecap="round" />
<path d="M769,209 L774,212 L776,224" fill="none" stroke="#141414" stroke-width="1.1" stroke-linejoin="round" stroke-linecap="round" />
<line x1="682.1" y1="175.5" x2="712.0" y2="175.5" stroke="#141414" stroke-width="1.2" stroke-linecap="round"/>
<path d="M420.0,564.0 C417.3,567.4 406.3,580.4 403.7,584.1 C401.1,587.8 411.6,576.8 404.2,586.1 C396.8,595.4 367.0,630.5 359.0,640.0 C351.0,649.5 358.8,640.1 356.2,643.0 C353.6,645.9 347.8,652.1 343.2,657.4 C338.6,662.7 332.9,669.7 328.8,674.7 C324.7,679.7 321.5,683.5 318.7,687.6 C315.9,691.7 313.5,695.4 312.2,699.2 C310.9,703.1 310.4,706.9 310.8,710.7 C311.2,714.5 312.3,718.8 314.4,722.2 C316.4,725.6 319.5,728.5 323.1,730.9 C326.7,733.3 331.7,735.6 336.0,736.6 C340.3,737.6 344.9,737.3 349.0,736.6 C353.1,735.9 357.4,734.2 360.5,732.3 C363.6,730.4 366.0,727.7 367.7,725.1 C369.4,722.5 370.0,720.4 370.6,716.5 C371.2,712.6 371.2,708.2 371.3,702.0 C371.4,695.8 372.5,683.3 371.3,679.0 C370.1,674.7 364.9,677.8 364.0,676.0 C363.1,674.2 364.8,670.7 366.0,668.0 C367.2,665.3 368.6,663.7 371.0,660.0 C373.4,656.3 377.2,650.9 380.7,645.9 C384.2,640.9 385.6,638.0 392.2,630.0 C398.8,622.0 412.7,606.4 420.0,598.1 C427.3,589.8 430.6,585.8 436.0,580.0 C441.4,574.2 454.8,565.9 452.1,563.2 C449.4,560.5 425.4,563.9 420.0,564.0" fill="#fdfdfd" stroke="#fff" stroke-width="0.01" stroke-linejoin="round" stroke-linecap="round" />
<path d="M433.1,547.1 C430.9,549.9 424.9,557.8 420.0,564.0 C415.1,570.2 406.4,580.8 403.7,584.1" fill="none" stroke="#141414" stroke-width="1.5" stroke-linejoin="round" stroke-linecap="round" />
<path d="M404.2,586.1 C400.2,590.9 387.5,606.0 380.0,615.0 C372.5,624.0 363.0,635.3 359.0,640.0 C355.0,644.7 358.8,640.1 356.2,643.0 C353.6,645.9 347.8,652.1 343.2,657.4 C338.6,662.7 332.9,669.7 328.8,674.7 C324.7,679.7 321.5,683.5 318.7,687.6 C315.9,691.7 313.5,695.4 312.2,699.2 C310.9,703.1 310.4,706.9 310.8,710.7 C311.2,714.5 312.3,718.8 314.4,722.2 C316.4,725.6 319.5,728.5 323.1,730.9 C326.7,733.3 331.7,735.6 336.0,736.6 C340.3,737.6 344.9,737.3 349.0,736.6 C353.1,735.9 357.4,734.2 360.5,732.3 C363.6,730.4 366.0,727.7 367.7,725.1 C369.4,722.5 370.0,720.4 370.6,716.5 C371.2,712.6 371.2,708.2 371.3,702.0 C371.4,695.8 371.3,682.8 371.3,679.0" fill="none" stroke="#141414" stroke-width="1.5" stroke-linejoin="round" stroke-linecap="round" />
<path d="M452.1,563.2 C449.4,566.0 441.4,574.2 436.0,580.0 C430.6,585.8 426.0,591.3 420.0,598.1 C414.0,604.9 406.0,614.0 400.0,621.0 C394.0,628.0 389.0,633.7 384.1,640.0 C379.2,646.3 373.6,654.8 370.6,658.8 C367.6,662.8 366.8,663.1 366.0,664.0" fill="none" stroke="#141414" stroke-width="1.5" stroke-linejoin="round" stroke-linecap="round" />
<path d="M403.7,584.1 C410,585 417,590 420,598.1" fill="none" stroke="#141414" stroke-width="1.6" stroke-linejoin="round" stroke-linecap="round" />
<path d="M371.1,626.2 C376,628 382,632 385.1,638.2" fill="none" stroke="#141414" stroke-width="1.1" stroke-linejoin="round" stroke-linecap="round" />
<path d="M356.2,643 C362,645 367,649 370.6,654.5" fill="none" stroke="#141414" stroke-width="1.2" stroke-linejoin="round" stroke-linecap="round" />
<path d="M352,677.5 L331.5,703 C329.5,706 330,709.5 333,711.5 L343,716.5 C347,717.5 350.5,715.5 353.3,712.5 L353.3,679" fill="none" stroke="#141414" stroke-width="1.4" stroke-linejoin="round" stroke-linecap="round" />
<path d="M318.7,689.1 C324,690 330,694 333.1,697.7" fill="none" stroke="#141414" stroke-width="1.1" stroke-linejoin="round" stroke-linecap="round" />
<path d="M329,716 C326,721 326,727 328.5,733.5" fill="none" stroke="#141414" stroke-width="1.1" stroke-linejoin="round" stroke-linecap="round" />
<path d="M331.5,716.5 C328.5,721.5 328.5,727.5 331,734" fill="none" stroke="#141414" stroke-width="1.1" stroke-linejoin="round" stroke-linecap="round" />
<line x1="353.3" y1="696.3" x2="371.3" y2="696.3" stroke="#141414" stroke-width="1.2" stroke-linecap="round"/>
<line x1="353.3" y1="711.0" x2="371.3" y2="711.0" stroke="#141414" stroke-width="1.2" stroke-linecap="round"/>
<line x1="353.3" y1="713.0" x2="371.3" y2="713.0" stroke="#141414" stroke-width="1.0" stroke-linecap="round"/>
<path d="M336.7,663.9 L340.3,661.7 L369.2,662.5 L386.5,671.1 L389.3,675.4 L386.5,679.0 L364.8,679.0 L347.6,675.4 L337.5,668.2 Z" fill="#fff" stroke="#141414" stroke-width="1.3" stroke-linejoin="round" />
<path d="M336.7,661.7 L340.3,659.5 L369.2,660.3 L386.5,668.9 L389.3,673.2 L386.5,676.8 L364.8,676.8 L347.6,673.2 L337.5,666.0 Z" fill="#fff" stroke="#141414" stroke-width="1.4" stroke-linejoin="round" />
<ellipse cx="344.0" cy="662.9" rx="2.6" ry="1.5" transform="rotate(10.0 344.0 662.9)" fill="#fff" stroke="#141414" stroke-width="1.2" />
<ellipse cx="382.9" cy="671.8" rx="2.6" ry="1.5" transform="rotate(10.0 382.9 671.8)" fill="#fff" stroke="#141414" stroke-width="1.2" />
<ellipse cx="363.4" cy="666.7" rx="6.5" ry="3.9" transform="rotate(5.0 363.4 666.7)" fill="#fff" stroke="#141414" stroke-width="1.3" />
<line x1="363.4" y1="666.7" x2="363.4" y2="670.0" stroke="#141414" stroke-width="0.9" stroke-linecap="round"/>
<path d="M471.5,516.5 C478,520 484,525 489,532 C494,539 498,547 500.5,556 C501,559 500,561 497.5,561 C495,561 494,558 493,555 C490,547 486,540 481,534 C477,529 473,525 469.5,522.5 C467.5,521 468,517 471.5,516.5 Z" fill="#fff" stroke="#141414" stroke-width="1.3" stroke-linejoin="round" stroke-linecap="round" />
<path d="M472.5,516.8 C479,520.5 485,525.5 490,532.5 C495,539.5 499,547.5 501.2,556" fill="none" stroke="#141414" stroke-width="2.2" stroke-linejoin="round" stroke-linecap="round" />
<path d="M470.5,519.5 C476.5,523 482.5,528 487,534.5 C491.5,541 495,548.5 497,556.5" fill="none" stroke="#141414" stroke-width="0.9" stroke-linejoin="round" stroke-linecap="round" />
<path d="M517.2,465.9 C517.9,467.8 520.4,473.4 521.4,477.6 C522.4,481.9 523.1,486.8 523.4,491.4 C523.7,496.0 523.5,500.1 523.4,505.2 C523.3,510.2 523.1,518.1 522.8,521.7 C522.5,525.3 521.6,525.8 521.4,526.6" fill="none" stroke="#141414" stroke-width="1.4" stroke-linejoin="round" stroke-linecap="round" />
<line x1="517.2" y1="465.9" x2="477.2" y2="516.2" stroke="#141414" stroke-width="1.3" stroke-linecap="round"/>
<path d="M421.9,502.0 L430.0,500.7 L462.1,484.5 L481.4,463.8 L497.9,464.5 L511.7,463.1 L514.5,472.0 L440.0,514.8 L430.0,512.0 Z" fill="#fdfdfd" stroke="#fff" stroke-width="0.01" stroke-linejoin="round" />
<path d="M421.9,502 C424,500 428,499.5 432,500 L462.1,484.5 L481.4,463.8 L497.9,464.5 L511.7,463.1" fill="none" stroke="#141414" stroke-width="1.4" stroke-linejoin="round" stroke-linecap="round" />
<line x1="491.0" y1="467.9" x2="462.1" y2="485.9" stroke="#141414" stroke-width="1.2" stroke-linecap="round"/>
<line x1="483.0" y1="465.0" x2="491.0" y2="467.9" stroke="#141414" stroke-width="1.1" stroke-linecap="round"/>
<line x1="509.0" y1="465.2" x2="427.0" y2="508.0" stroke="#141414" stroke-width="1.3" stroke-linecap="round"/>
<line x1="513.0" y1="469.3" x2="433.0" y2="512.5" stroke="#141414" stroke-width="1.3" stroke-linecap="round"/>
<path d="M511.7,463.1 L506,469 M515,466 L511,472" fill="none" stroke="#141414" stroke-width="1.1" stroke-linejoin="round" stroke-linecap="round" />
<line x1="516.0" y1="467.0" x2="514.5" y2="472.0" stroke="#141414" stroke-width="1.1" stroke-linecap="round"/>
<path d="M421.9,501.4 C419.5,504 419.5,508 421,511" fill="none" stroke="#141414" stroke-width="1.4" stroke-linejoin="round" stroke-linecap="round" />
<path d="M424,511 L447.1,519.5 L443.1,533.1 L421,523.1 C418,521 418,513 424,511 Z" fill="#fff" stroke="#141414" stroke-width="1.4" stroke-linejoin="round" stroke-linecap="round" />
<ellipse cx="446.1" cy="526.3" rx="5.6" ry="7.4" transform="rotate(18.0 446.1 526.3)" fill="#fff" stroke="#141414" stroke-width="1.4" />
<ellipse cx="446.6" cy="526.8" rx="3.4" ry="4.4" transform="rotate(18.0 446.6 526.8)" fill="#fff" stroke="#141414" stroke-width="1.0" />
<ellipse cx="446.8" cy="527.0" rx="1.6" ry="2.1" transform="rotate(18.0 446.8 527.0)" fill="#fff" stroke="#141414" stroke-width="1.2" />
<path d="M426,526 L433.1,547.1" fill="none" stroke="#141414" stroke-width="1.3" stroke-linejoin="round" stroke-linecap="round" />
<path d="M448.1,532.1 L455.1,534.1 L469.2,537.1 L471.2,541.1 L477.2,544.1 L485,548.1" fill="none" stroke="#141414" stroke-width="1.3" stroke-linejoin="round" stroke-linecap="round" />
<path d="M434.1,547.1 C440,549 447,553 451.1,558.1 C452.5,560 453,561 453.1,562.2" fill="none" stroke="#141414" stroke-width="1.4" stroke-linejoin="round" stroke-linecap="round" />
<path d="M455.1,534.1 C456,543 458,552 463,558" fill="none" stroke="#141414" stroke-width="1.1" stroke-linejoin="round" stroke-linecap="round" />
<line x1="452.6" y1="558.0" x2="485.6" y2="549.0" stroke="#141414" stroke-width="1.1" stroke-linecap="round"/>
<path d="M463.1,540.0 C462.9,543.0 462.1,552.2 461.6,558.0 C461.1,563.8 460.6,569.3 460.1,574.6 C459.6,579.9 459.6,584.6 458.6,589.6 C457.6,594.6 456.1,600.2 454.1,604.7 C452.1,609.2 449.0,613.5 446.5,616.7 C444.0,620.0 440.6,622.0 439.0,624.2 C437.4,626.5 436.6,628.6 436.8,630.2 C437.0,631.8 435.6,633.5 440.0,634.0 C444.4,634.5 458.5,635.6 463.1,633.2 C467.7,630.8 465.9,624.5 467.6,619.7 C469.4,615.0 471.6,609.7 473.6,604.7 C475.6,599.7 477.6,594.6 479.6,589.6 C481.6,584.6 483.8,578.9 485.6,574.6 C487.4,570.4 488.8,567.2 490.2,564.1 C491.6,561.0 498.5,560.0 494.0,556.0 C489.5,552.0 468.2,542.7 463.1,540.0" fill="#fdfdfd" stroke="#fff" stroke-width="0.01" stroke-linejoin="round" stroke-linecap="round" />
<path d="M463.1,540.0 C462.9,543.0 462.1,552.2 461.6,558.0 C461.1,563.8 460.6,569.3 460.1,574.6 C459.6,579.9 459.6,584.6 458.6,589.6 C457.6,594.6 456.1,600.2 454.1,604.7 C452.1,609.2 449.0,613.5 446.5,616.7 C444.0,620.0 440.6,622.0 439.0,624.2 C437.4,626.5 437.2,629.2 436.8,630.2" fill="none" stroke="#141414" stroke-width="1.5" stroke-linejoin="round" stroke-linecap="round" />
<path d="M463.1,633.2 C463.9,631.0 465.9,624.5 467.6,619.7 C469.4,615.0 471.6,609.7 473.6,604.7 C475.6,599.7 477.6,594.6 479.6,589.6 C481.6,584.6 483.8,578.9 485.6,574.6 C487.4,570.4 488.8,567.2 490.2,564.1 C491.6,561.0 493.4,557.4 494.0,556.0" fill="none" stroke="#141414" stroke-width="1.5" stroke-linejoin="round" stroke-linecap="round" />
<path d="M485.6,550.5 C484.1,553.8 479.4,563.6 476.6,570.1 C473.9,576.6 471.6,583.1 469.1,589.6 C466.6,596.1 464.4,603.4 461.6,609.2 C458.9,615.0 455.4,620.2 452.6,624.2 C449.8,628.2 446.3,631.7 445.0,633.2" fill="none" stroke="#141414" stroke-width="1.1" stroke-linejoin="round" stroke-linecap="round" />
<path d="M487.6,551.5 C486.1,554.8 481.4,564.6 478.6,571.1 C475.9,577.6 473.6,584.1 471.1,590.6 C468.6,597.1 466.4,604.4 463.6,610.2 C460.9,616.0 457.4,621.2 454.6,625.2 C451.8,629.2 448.3,632.7 447.0,634.2" fill="none" stroke="#141414" stroke-width="1.0" stroke-linejoin="round" stroke-linecap="round" />
<line x1="460.1" y1="586.6" x2="466.1" y2="592.6" stroke="#141414" stroke-width="1.1" stroke-linecap="round"/>
<line x1="460.1" y1="612.2" x2="467.6" y2="619.7" stroke="#141414" stroke-width="1.1" stroke-linecap="round"/>
<line x1="463.1" y1="540.0" x2="461.6" y2="548.0" stroke="#141414" stroke-width="1.1" stroke-linecap="round"/>
<path d="M440,634.6 L460.1,636.2 L457.1,652.8 L440.5,649.8 C435,647 435,637 440,634.6 Z" fill="#fff" stroke="#141414" stroke-width="1.5" stroke-linejoin="round" stroke-linecap="round" />
<ellipse cx="461.6" cy="645.3" rx="7.4" ry="9.4" transform="rotate(12.0 461.6 645.3)" fill="#fff" stroke="#141414" stroke-width="1.5" />
<ellipse cx="461.8" cy="645.8" rx="5.2" ry="6.6" transform="rotate(12.0 461.8 645.8)" fill="#fff" stroke="#141414" stroke-width="1.0" />
<ellipse cx="461.8" cy="646.0" rx="2.2" ry="2.7" transform="rotate(12.0 461.8 646.0)" fill="#fff" stroke="#141414" stroke-width="1.4" />
<path d="M163.4,403.2 L210.2,425.6 L213.4,419.2 L166.6,396.8 Z" fill="#fff" stroke="#141414" stroke-width="1.8" stroke-linejoin="round" />
<path d="M197.1,419.4 L210.2,425.6 L213.4,419.2 L200.3,412.9 Z" fill="#555" stroke="#141414" stroke-width="1.8" stroke-linejoin="round" />
<line x1="198.7" y1="419.7" x2="201.5" y2="413.9" stroke="#333" stroke-width="0.8" stroke-linecap="round"/>
<line x1="200.8" y1="420.7" x2="203.6" y2="414.9" stroke="#333" stroke-width="0.8" stroke-linecap="round"/>
<line x1="202.8" y1="421.7" x2="205.6" y2="415.8" stroke="#333" stroke-width="0.8" stroke-linecap="round"/>
<line x1="204.9" y1="422.7" x2="207.7" y2="416.8" stroke="#333" stroke-width="0.8" stroke-linecap="round"/>
<line x1="206.9" y1="423.7" x2="209.7" y2="417.8" stroke="#333" stroke-width="0.8" stroke-linecap="round"/>
<line x1="209.0" y1="424.7" x2="211.8" y2="418.8" stroke="#333" stroke-width="0.8" stroke-linecap="round"/>
<ellipse cx="211.8" cy="422.4" rx="2.6" ry="3.6" transform="rotate(25.6 211.8 422.4)" fill="#fff" stroke="#141414" stroke-width="1.6" />
<path d="M156,388.5 C150,390 148,398 150,403 C152,407 158,408 163,406.5 L168,404.5 C172,402 172,393 168,391 L163,389 C161,388.4 158,388.2 156,388.5 Z" fill="#fff" stroke="#141414" stroke-width="1.6" stroke-linejoin="round" stroke-linecap="round" />
<ellipse cx="163.5" cy="398.3" rx="6.2" ry="8.6" transform="rotate(-10.0 163.5 398.3)" fill="#fff" stroke="#141414" stroke-width="1.5" />
<ellipse cx="165.0" cy="399.2" rx="4.0" ry="6.2" transform="rotate(-10.0 165.0 399.2)" fill="#fff" stroke="#141414" stroke-width="1.2" />
<line x1="145.0" y1="396.4" x2="152.2" y2="396.4" stroke="#141414" stroke-width="1.2" stroke-linecap="round"/>
<path d="M138.3,496.9 L196.5,525.0 L199.9,518.2 L141.7,490.1 Z" fill="#fff" stroke="#141414" stroke-width="1.8" stroke-linejoin="round" />
<path d="M182.0,518.0 L196.5,525.0 L199.9,518.2 L185.3,511.2 Z" fill="#555" stroke="#141414" stroke-width="1.8" stroke-linejoin="round" />
<line x1="183.9" y1="518.5" x2="186.9" y2="512.3" stroke="#333" stroke-width="0.8" stroke-linecap="round"/>
<line x1="186.1" y1="519.6" x2="189.1" y2="513.4" stroke="#333" stroke-width="0.8" stroke-linecap="round"/>
<line x1="188.3" y1="520.6" x2="191.3" y2="514.5" stroke="#333" stroke-width="0.8" stroke-linecap="round"/>
<line x1="190.5" y1="521.7" x2="193.5" y2="515.5" stroke="#333" stroke-width="0.8" stroke-linecap="round"/>
<line x1="192.8" y1="522.8" x2="195.7" y2="516.6" stroke="#333" stroke-width="0.8" stroke-linecap="round"/>
<line x1="195.0" y1="523.8" x2="197.9" y2="517.7" stroke="#333" stroke-width="0.8" stroke-linecap="round"/>
<ellipse cx="198.2" cy="521.6" rx="2.6" ry="3.8" transform="rotate(25.8 198.2 521.6)" fill="#fff" stroke="#141414" stroke-width="1.6" />
<path d="M133,487.5 L137,486 L142,486.5 L145.5,490 L146,496 L143,500 L138,500.5 L133.5,498 L131,493 Z" fill="#fff" stroke="#141414" stroke-width="1.5" stroke-linejoin="round" stroke-linecap="round" />
<ellipse cx="139.6" cy="494.0" rx="5.2" ry="6.8" transform="rotate(-10.0 139.6 494.0)" fill="#fff" stroke="#141414" stroke-width="1.4" />
<ellipse cx="140.6" cy="494.4" rx="3.4" ry="5.0" transform="rotate(-10.0 140.6 494.4)" fill="#fff" stroke="#141414" stroke-width="1.1" />
<line x1="117.6" y1="490.1" x2="131.0" y2="490.1" stroke="#141414" stroke-width="1.2" stroke-linecap="round"/>
<line x1="326.2" y1="767.9" x2="368.2" y2="767.9" stroke="#444" stroke-width="2.0" stroke-linecap="round"/>
<path d="M335.2,764.5 C335.2,762.0 343.2,762.0 343.2,764.5 L341.7,772.0 C341.7,774.0 336.7,774.0 336.7,772.0 Z" fill="#bbb" stroke="#222" stroke-width="1.6" stroke-linejoin="round" stroke-linecap="round" />
<ellipse cx="339.2" cy="764.5" rx="3.4" ry="1.4" transform="rotate(0.0 339.2 764.5)" fill="#888" stroke="#333" stroke-width="1.0" />
<line x1="339.2" y1="768.5" x2="339.2" y2="771.5" stroke="#f4f4f4" stroke-width="1.4" stroke-linecap="round"/>
<path d="M367.8,764.5 C367.8,762.0 375.8,762.0 375.8,764.5 L374.3,772.6 C374.3,774.6 369.3,774.6 369.3,772.6 Z" fill="#bbb" stroke="#222" stroke-width="1.6" stroke-linejoin="round" stroke-linecap="round" />
<ellipse cx="371.8" cy="764.5" rx="3.4" ry="1.4" transform="rotate(0.0 371.8 764.5)" fill="#888" stroke="#333" stroke-width="1.0" />
<line x1="371.8" y1="768.5" x2="371.8" y2="772.1" stroke="#f4f4f4" stroke-width="1.4" stroke-linecap="round"/>
<line x1="337.3" y1="782.6" x2="350.2" y2="782.6" stroke="#333" stroke-width="1.8" stroke-linecap="round"/>
<ellipse cx="358.3" cy="781.4" rx="8.0" ry="5.0" transform="rotate(0.0 358.3 781.4)" fill="#999" stroke="#333" stroke-width="2.0" />
<ellipse cx="358.3" cy="780.9" rx="4.6" ry="2.2" transform="rotate(0.0 358.3 780.9)" fill="#fdfdfd" stroke="#444" stroke-width="1.2" />
<!-- LABELS -->
<g id="labels">
<text class="t" x="758.00" y="51.50" font-size="18.30" textLength="127.50" lengthAdjust="spacingAndGlyphs">95701-06025-07</text>
<text class="t" x="821.50" y="160.50" font-size="18.30" textLength="48.50" lengthAdjust="spacingAndGlyphs">18292</text>
<text class="t" x="812.00" y="191.50" font-size="17.74" textLength="45.00" lengthAdjust="spacingAndGlyphs">18291</text>
<text class="t" x="633.50" y="182.00" font-size="18.30" textLength="48.00" lengthAdjust="spacingAndGlyphs">18306</text>
<text class="t" x="598.00" y="254.50" font-size="17.61" textLength="47.50" lengthAdjust="spacingAndGlyphs">18294</text>
<text class="t" x="562.00" y="278.50" font-size="17.61" textLength="48.00" lengthAdjust="spacingAndGlyphs">18294</text>
<text class="t" x="694.00" y="391.00" font-size="19.02" textLength="52.50" lengthAdjust="spacingAndGlyphs">80107</text>
<text class="t" x="489.00" y="192.00" font-size="18.30" textLength="48.50" lengthAdjust="spacingAndGlyphs">18318</text>
<text class="t" x="358.00" y="138.50" font-size="18.30" textLength="112.00" lengthAdjust="spacingAndGlyphs">96001-06012</text>
<text class="t" x="414.00" y="165.00" font-size="18.30" textLength="52.00" lengthAdjust="spacingAndGlyphs">18293</text>
<text class="t" x="184.00" y="263.00" font-size="18.87" textLength="51.50" lengthAdjust="spacingAndGlyphs">1830A</text>
<text class="t" x="189.00" y="359.50" font-size="18.30" textLength="51.50" lengthAdjust="spacingAndGlyphs">18292</text>
<text class="t" x="150.00" y="380.50" font-size="18.30" textLength="104.50" lengthAdjust="spacingAndGlyphs">18291-KEBE</text>
<text class="r" x="36.00" y="401.50" font-size="18.02" textLength="108.50" lengthAdjust="spacingAndGlyphs">95801-08045</text>
<text class="t" x="13.00" y="497.00" font-size="17.74" textLength="102.50" lengthAdjust="spacingAndGlyphs">95801-08042</text>
<text class="t" x="277.00" y="772.50" font-size="17.42" textLength="46.50" lengthAdjust="spacingAndGlyphs">90301</text>
<text class="t" x="289.00" y="790.50" font-size="17.47" textLength="46.00" lengthAdjust="spacingAndGlyphs">18291</text>
</g>
</svg>
</body></html>
